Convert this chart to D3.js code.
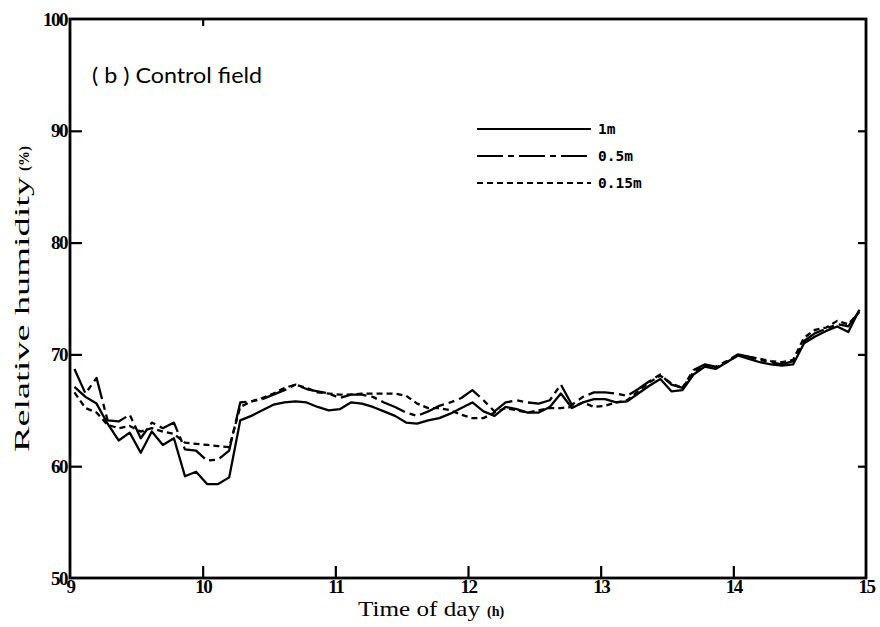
<!DOCTYPE html>
<html>
<head>
<meta charset="utf-8">
<script src="https://cdn.jsdelivr.net/npm/d3@7"></script>
<style>
  html, body { margin: 0; padding: 0; background: #fff; }
  svg { display: block; }
</style>
</head>
<body>
<svg id="chart" width="880" height="627"></svg>
<script>
// Sampling times (h:mm) shared by the three measurement heights
const sampleTimes = [
  "9:02","9:07","9:12","9:17","9:22","9:27","9:32","9:37","9:42","9:47","9:52","9:57",
  "10:02","10:07","10:12","10:17","10:22","10:27","10:32","10:37","10:42","10:47","10:52","10:57",
  "11:02","11:07","11:12","11:17","11:22","11:27","11:32","11:37","11:42","11:47","11:52","11:57",
  "12:02","12:07","12:12","12:17","12:22","12:27","12:32","12:37","12:42","12:47","12:52","12:57",
  "13:02","13:07","13:12","13:17","13:22","13:27","13:32","13:37","13:42","13:47","13:52","13:57",
  "14:02","14:07","14:12","14:17","14:22","14:27","14:32","14:37","14:42","14:47","14:52","14:57"
];

// Relative humidity (%) at 1 m
const rh1m = [
  67.1,66.2,65.6,63.8,62.3,63.0,61.2,63.1,61.9,62.5,59.1,59.5,
  58.4,58.4,59.0,64.1,64.5,65.0,65.5,65.7,65.8,65.7,65.3,65.0,
  65.1,65.7,65.6,65.3,64.9,64.5,63.9,63.8,64.1,64.3,64.7,65.2,
  65.7,64.9,64.5,65.3,65.1,64.8,64.8,65.3,66.5,65.2,65.7,66.0,
  66.0,65.7,65.8,66.5,67.2,67.8,66.7,66.8,68.2,68.9,68.7,69.3,
  69.9,69.6,69.3,69.1,69.0,69.1,71.0,71.6,72.1,72.5,72.0,74.0
];

// Relative humidity (%) at 0.5 m
const rh05m = [
  68.7,66.5,67.9,64.1,64.0,64.6,62.5,63.9,63.4,63.9,61.5,61.4,
  60.5,60.6,61.4,65.7,65.8,66.0,66.4,66.8,67.3,66.9,66.7,66.5,
  66.1,66.4,66.4,66.2,65.7,65.3,64.8,64.5,64.9,65.4,65.7,66.1,
  66.8,65.9,64.9,65.7,65.9,65.7,65.6,65.9,67.3,65.5,66.2,66.6,
  66.6,66.5,66.3,66.9,67.6,68.2,67.3,67.0,68.6,69.1,68.9,69.4,
  70.0,69.8,69.5,69.3,69.1,69.4,71.2,71.9,72.3,72.7,72.5,73.9
];

// Relative humidity (%) at 0.15 m
const rh015m = [
  66.6,65.2,64.8,63.7,63.4,63.6,63.1,63.4,63.1,62.9,62.1,62.0,
  61.9,61.8,61.7,65.3,65.8,66.1,66.5,67.0,67.3,67.0,66.6,66.5,
  66.4,66.4,66.5,66.5,66.5,66.5,66.3,65.6,65.2,65.2,65.0,64.6,
  64.3,64.3,64.8,65.2,65.0,64.8,65.0,65.2,65.2,65.3,65.7,65.3,
  65.4,65.7,65.9,66.7,67.5,68.1,67.4,67.0,68.4,69.0,68.8,69.3,
  69.9,69.8,69.6,69.4,69.3,69.5,71.5,72.2,72.4,73.0,72.7,73.8
];

const seriesNames = ["1m", "0.5m", "0.15m"];
const hourTicks = [9, 10, 11, 12, 13, 14, 15];
const humidityTicks = [50, 60, 70, 80, 90, 100];

const toHours = s => { const [h, m] = s.split(":").map(Number); return h + m / 60; };
const hours = sampleTimes.map(toHours);

const svg = d3.select("#chart");
const plotLeft = 70, plotRight = 866, plotTop = 19, plotBottom = 578;

const x = d3.scaleLinear().domain([9, 15]).range([plotLeft, plotRight]);
const y = d3.scaleLinear().domain([50, 100]).range([plotBottom, plotTop]);

const serif = "'Liberation Serif', 'DejaVu Serif', serif";

// Frame
svg.append("rect")
  .attr("x", plotLeft).attr("y", plotTop)
  .attr("width", plotRight - plotLeft).attr("height", plotBottom - plotTop)
  .attr("fill", "none").attr("stroke", "#000").attr("stroke-width", 2.8);

// Axes with inward ticks
const styleAxis = g => {
  g.select(".domain").remove();
  g.selectAll(".tick line").attr("stroke", "#000").attr("stroke-width", 2.2);
  g.selectAll(".tick text")
    .attr("font-family", serif).attr("font-weight", "bold")
    .attr("font-size", 19).attr("fill", "#000")
    .attr("letter-spacing", -1.5);
};

svg.append("g")
  .attr("transform", `translate(${plotLeft},0)`)
  .call(d3.axisLeft(y).tickValues(humidityTicks).tickFormat(d3.format("d"))
    .tickSizeInner(-12).tickSizeOuter(0).tickPadding(3))
  .call(styleAxis)
  .call(g => g.selectAll(".tick").filter(d => d === 50 || d === 100).select("line").remove());

svg.append("g")
  .attr("transform", `translate(${plotRight},0)`)
  .call(d3.axisRight(y).tickValues(humidityTicks.filter(d => d > 50 && d < 100))
    .tickFormat("").tickSizeInner(-8).tickSizeOuter(0))
  .call(styleAxis);

svg.append("g")
  .attr("transform", `translate(0,${plotBottom})`)
  .call(d3.axisBottom(x).tickValues(hourTicks).tickFormat(d3.format("d"))
    .tickSizeInner(-12).tickSizeOuter(0).tickPadding(2))
  .call(styleAxis)
  .call(g => g.selectAll(".tick").filter(d => d === 9 || d === 15).select("line").remove())
  .call(g => g.selectAll(".tick text").attr("dy", "0.68em"));

svg.append("g")
  .attr("transform", `translate(0,${plotTop})`)
  .call(d3.axisTop(x).tickValues([10]).tickFormat("").tickSizeInner(-7).tickSizeOuter(0))
  .call(styleAxis);

// Axis titles
const xt = svg.append("text")
  .attr("x", 358).attr("y", 616)
  .attr("font-family", serif).attr("font-size", 22).attr("fill", "#000");
xt.append("tspan").attr("textLength", 122).attr("lengthAdjust", "spacingAndGlyphs").text("Time of day");
xt.append("tspan").attr("dx", 7).attr("font-size", 14).attr("font-weight", "bold").text("(h)");

const yt = svg.append("text")
  .attr("transform", "translate(29,452) rotate(-90)")
  .attr("font-family", serif).attr("font-size", 21).attr("fill", "#000");
yt.append("tspan").attr("textLength", 275).attr("lengthAdjust", "spacingAndGlyphs").text("Relative humidity");
yt.append("tspan").attr("dx", 6).attr("font-size", 15).attr("font-weight", "bold").text("(%)");

// Panel title
svg.append("text")
  .attr("x", 92).attr("y", 83)
  .attr("font-family", "Lato, 'Open Sans', sans-serif")
  .attr("font-size", 21).attr("fill", "#000")
  .attr("textLength", 170).attr("lengthAdjust", "spacingAndGlyphs")
  .text("( b ) Control field");

// Series
const dashes = { "1m": null, "0.5m": "26,5,6,5", "0.15m": "6,4" };
const values = { "1m": rh1m, "0.5m": rh05m, "0.15m": rh015m };

const line = d3.line()
  .x((d, i) => x(hours[i]))
  .y(d => y(d));

seriesNames.forEach(name => {
  svg.append("path")
    .datum(values[name])
    .attr("d", line)
    .attr("fill", "none")
    .attr("stroke", "#000")
    .attr("stroke-width", 2.3)
    .attr("stroke-linejoin", "round")
    .attr("stroke-dasharray", dashes[name]);
});

// Legend
const legendY = [129, 156, 183];
seriesNames.forEach((name, i) => {
  svg.append("line")
    .attr("x1", 477).attr("x2", 591)
    .attr("y1", legendY[i]).attr("y2", legendY[i])
    .attr("stroke", "#000").attr("stroke-width", 2.2)
    .attr("stroke-dasharray", dashes[name]);
  svg.append("text")
    .attr("x", 598).attr("y", legendY[i] + 5)
    .attr("font-family", "'DejaVu Sans Mono', monospace")
    .attr("font-weight", "bold")
    .attr("font-size", 14.5).attr("fill", "#000")
    .text(name);
});
</script>
</body>
</html>
